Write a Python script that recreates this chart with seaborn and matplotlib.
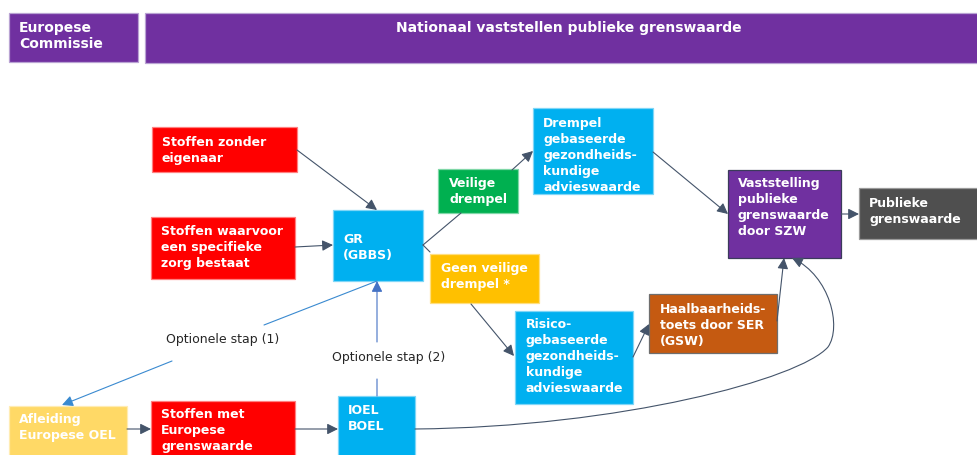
import matplotlib
matplotlib.use("Agg")
import matplotlib.pyplot as plt
import seaborn as sns
from matplotlib.patches import Rectangle, FancyArrowPatch
from matplotlib.path import Path

# ---------------- content ----------------
header_labels = ["Europese\nCommissie", "Nationaal vaststellen publieke grenswaarde"]
box_labels = [
    "Stoffen zonder\neigenaar",
    "Stoffen waarvoor\neen specifieke\nzorg bestaat",
    "GR\n(GBBS)",
    "Veilige\ndrempel",
    "Geen veilige\ndrempel *",
    "Drempel\ngebaseerde\ngezondheids-\nkundige\nadvieswaarde",
    "Risico-\ngebaseerde\ngezondheids-\nkundige\nadvieswaarde",
    "Haalbaarheids-\ntoets door SER\n(GSW)",
    "Vaststelling\npublieke\ngrenswaarde\ndoor SZW",
    "Publieke\ngrenswaarde",
    "Afleiding\nEuropese OEL",
    "Stoffen met\nEuropese\ngrenswaarde",
    "IOEL\nBOEL",
]
step_labels = ["Optionele stap (1)", "Optionele stap (2)"]

# ---------------- layout (pixel coordinates, y downwards) ----------------
PURPLE, RED, BLUE = "#7030A0", "#FF0000", "#00B0F0"
GREEN, AMBER, LYELLOW = "#00B050", "#FFC000", "#FFD966"
BROWN, DGRAY = "#C55A11", "#4F4F4F"
LINE = "#44546A"

# (x0, y0, x1, y1, text_x, first_baseline, fill, edge)
header_layout = [
    (9, 14, 138, 62.5, 19, 32.3, PURPLE, "#B9A3D3"),
    (145, 14, 990, 64, 569, 32.3, PURPLE, "#B9A3D3"),
]
box_layout = [
    (152, 128, 297, 173, 162, 145.7, RED, "#FF8080"),
    (151, 218, 295, 280, 161, 234.7, RED, "#FF8080"),
    (333, 211, 423, 282, 343, 243.5, BLUE, "#7FD6F7"),
    (438, 170, 518, 214, 449, 186.7, GREEN, "#7FD7A7"),
    (430, 255, 539, 304, 441, 271.7, AMBER, "#FFDF80"),
    (533, 109, 653, 195, 543, 126.7, BLUE, "#7FD6F7"),
    (515, 312, 633, 405, 526, 328.3, BLUE, "#7FD6F7"),
    (649, 295, 777, 354, 660, 312.7, BROWN, "#6E6E6E"),
    (728, 171, 841, 259, 738, 187.3, PURPLE, "#3B3B5B"),
    (859, 189, 990, 240, 869, 206.7, DGRAY, "#9A9A9A"),
    (9, 407, 127, 470, 19, 423.3, LYELLOW, "#FFECB3"),
    (151, 402, 295, 470, 161, 417.7, RED, "#FF8080"),
    (338, 397, 415, 470, 348, 414.3, BLUE, "#7FD6F7"),
]
step_layout = [(166, 343.3), (332, 360.7)]
LINE_STEP = 16

sns.set_theme(style="white")
plt.rcParams["font.family"] = ["DejaVu Sans"]

fig = plt.figure(figsize=(9.78, 4.56), dpi=100)
ax = fig.add_axes([0, 0, 1, 1])
ax.set_xlim(0, 978)
ax.set_ylim(456, 0)
ax.axis("off")


def draw_box(label, lay, size, bold=True, center=False):
    x0, y0, x1, y1, tx, by, fill, edge = lay
    ax.add_patch(Rectangle((x0, y0), x1 - x0, y1 - y0, facecolor=fill,
                           edgecolor=edge, lw=0.9, zorder=2))
    for i, line in enumerate(label.split("\n")):
        ax.text(tx, by + i * LINE_STEP, line, color="white", fontsize=size,
                fontweight="bold" if bold else "normal",
                ha="center" if center else "left", va="baseline", zorder=3)


draw_box(header_labels[0], header_layout[0], 10)
draw_box(header_labels[1], header_layout[1], 10, center=True)
for lab, lay in zip(box_labels, box_layout):
    draw_box(lab, lay, 9)

for lab, (tx, by) in zip(step_labels, step_layout):
    ax.text(tx, by, lab, color="#262626", fontsize=9, ha="left",
            va="baseline", zorder=3)


def arrow(p0, p1, color=LINE, head=True, lw=0.8):
    ax.annotate("", xy=p1, xytext=p0,
                arrowprops=dict(arrowstyle="-|>,head_length=0.5,head_width=0.25" if head else "-",
                                color=color, lw=lw, mutation_scale=13,
                                shrinkA=0, shrinkB=0), zorder=4)


# flow connectors
arrow((297, 151), (377, 211))
arrow((295, 248), (333, 246))
arrow((423, 246), (461, 214), head=False)
arrow((512, 171), (533, 152))
arrow((423, 246), (430, 253), head=False)
arrow((471, 305), (514, 357))
arrow((653, 153), (728, 215))
arrow((841, 215), (859, 215))
arrow((633, 358), (649, 325))
arrow((777, 322), (784, 259))
arrow((127, 430), (151, 430))
arrow((295, 430), (338, 430))

# optional steps
STEP1 = "#3A8AD0"
STEP2 = "#4472C4"
arrow((264, 326), (377, 282), color=STEP1, head=False)
arrow((172, 362), (62, 406), color=STEP1)
arrow((377, 343), (377, 282), color=STEP2)
arrow((377, 380), (377, 397), color=STEP2, head=False)

# long curved connector IOEL/BOEL -> Vaststelling
curve = Path([(415, 430), (620, 428), (800, 380), (828, 348),
              (842, 328), (830, 277), (792, 259)],
             [Path.MOVETO, Path.CURVE4, Path.CURVE4, Path.CURVE4,
              Path.CURVE4, Path.CURVE4, Path.CURVE4])
ax.add_patch(FancyArrowPatch(path=curve,
                             arrowstyle="-|>,head_length=0.5,head_width=0.25",
                             mutation_scale=13, color=LINE, lw=0.8, zorder=4))

fig.savefig("out.png", dpi=100)
